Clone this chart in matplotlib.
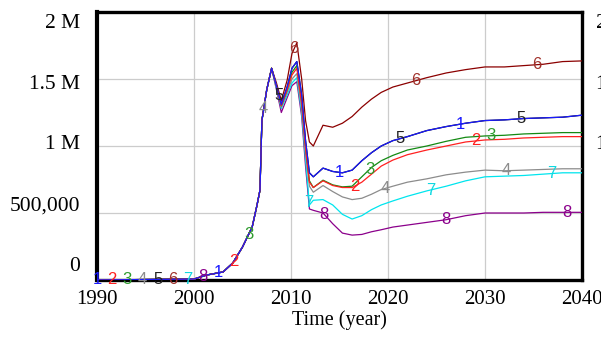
import numpy as np
import matplotlib
matplotlib.use("Agg")
import matplotlib.pyplot as plt

# ---------------- data ----------------
t_early = [1990, 2000, 2001.3, 2003, 2004, 2005, 2006, 2006.5, 2006.8, 2007.0, 2007.5, 2008]
v_early = [0, 7000, 37000, 60000, 127000, 246000, 396000, 560000, 670000, 1190000, 1420000, 1580000]

t_tail = [2008.5, 2009, 2009.6, 2010.1, 2010.6, 2011.1, 2011.5, 2011.9, 2012.3, 2013.3,
          2014.3, 2015.3, 2016.3, 2017.3, 2018.3, 2019.3, 2020.5, 2022, 2024, 2026,
          2028, 2030, 2032, 2034, 2036, 2038, 2040]

s1 = [1450000, 1310000, 1440000, 1580000, 1630000, 1380000, 1040000, 800000, 770000, 835000,
      810000, 800000, 820000, 890000, 950000, 1000000, 1040000, 1070000, 1115000, 1145000,
      1170000, 1190000, 1195000, 1205000, 1210000, 1215000, 1230000]
s2 = [1450000, 1300000, 1420000, 1530000, 1580000, 1320000, 980000, 730000, 690000, 740000,
      705000, 690000, 690000, 730000, 790000, 850000, 895000, 935000, 970000, 1000000,
      1030000, 1045000, 1050000, 1060000, 1065000, 1070000, 1070000]
s3 = [1450000, 1300000, 1420000, 1550000, 1600000, 1340000, 1000000, 740000, 690000, 745000,
      710000, 695000, 700000, 770000, 840000, 890000, 930000, 970000, 1000000, 1035000,
      1065000, 1075000, 1080000, 1090000, 1095000, 1100000, 1100000]
s4 = [1440000, 1290000, 1400000, 1500000, 1540000, 1280000, 950000, 700000, 655000, 705000,
      660000, 620000, 600000, 610000, 640000, 675000, 700000, 730000, 755000, 785000,
      805000, 820000, 815000, 820000, 825000, 830000, 830000]
s5 = list(s1)
s6 = [1470000, 1340000, 1490000, 1690000, 1770000, 1500000, 1190000, 1030000, 1000000, 1155000,
      1140000, 1170000, 1220000, 1290000, 1350000, 1400000, 1440000, 1470000, 1510000, 1545000,
      1570000, 1590000, 1590000, 1600000, 1610000, 1630000, 1635000]
s7 = [1430000, 1280000, 1380000, 1470000, 1510000, 1250000, 900000, 560000, 595000, 600000,
      560000, 490000, 455000, 480000, 525000, 560000, 590000, 625000, 665000, 700000,
      740000, 770000, 775000, 780000, 790000, 800000, 800000]
s8 = [1420000, 1250000, 1360000, 1450000, 1480000, 1220000, 850000, 530000, 520000, 500000,
      420000, 350000, 335000, 340000, 360000, 375000, 395000, 410000, 430000, 450000,
      480000, 500000, 500000, 500000, 505000, 505000, 505000]

series_names = ["1", "2", "3", "4", "5", "6", "7", "8"]
series_tails = [s1, s2, s3, s4, s5, s6, s7, s8]
line_colors = ["#1a1aff", "#ff2020", "#138a13", "#8c8c8c", "#000000", "#8b0000", "#00e5ee", "#8b008b"]
label_colors = ["#1a1aff", "#ff2020", "#2e9b2e", "#8c8c8c", "#222222", "#a0302a", "#10d8e0", "#8b008b"]

x_ticks = [1990, 2000, 2010, 2020, 2030, 2040]
y_ticks = [0, 500000, 1000000, 1500000, 2000000]
y_tick_labels = ["0", "500,000", "1 M", "1.5 M", "2 M"]
right_labels = ["1 M", "1.5 M", "2 M"]
right_vals = [1000000, 1500000, 2000000]
x_label = "Time (year)"

# ---------------- plot ----------------
serif = ["Liberation Serif", "DejaVu Serif"]
sans = ["Liberation Sans", "DejaVu Sans"]

fig = plt.figure(figsize=(6.01, 3.37), dpi=100)
ax = fig.add_axes([97 / 601, 1 - 280 / 337, 485 / 601, 268 / 337])

t_full = np.array(t_early + t_tail, dtype=float)
data = [np.array(v_early + list(s), dtype=float) for s in series_tails]

for k in reversed(range(8)):
    ax.plot(t_full, data[k], color=line_colors[k], lw=0.9, zorder=3 + (7 - k) * 0.01)

# numbered markers along lines
n_lab = 32
for i in range(n_lab):
    yr = 1990 + i * 50 / n_lab
    k = i % 8
    val = np.interp(yr, t_full, data[k])
    ax.text(yr, val, series_names[k], color=label_colors[k], fontsize=12,
            family=sans, ha="center", va="center", zorder=5, clip_on=False)

ax.set_xlim(1990, 2040)
ax.set_ylim(0, 2000000)
ax.set_xticks(x_ticks)
ax.set_xticklabels([str(x) for x in x_ticks], family=serif, fontsize=15)
ax.set_yticks(y_ticks)
ax.set_yticklabels([])
ax.tick_params(axis="both", length=0)
ax.tick_params(axis="x", pad=7)
ax.grid(True, color="#cccccc", lw=0.9)
ax.set_axisbelow(True)

for name, sp in ax.spines.items():
    sp.set_linewidth(2.4)
    sp.set_color("black")
ax.spines["left"].set_linewidth(3.0)

ax.set_xlabel(x_label, family=serif, fontsize=14.5, labelpad=1)

# y labels (Vensim style, compressed placement)
for v, lab in zip(y_ticks, y_tick_labels):
    frac = 0.0504 + v / 2000000 * 0.9067
    ax.text(-17 / 485, frac, lab, transform=ax.transAxes, ha="right", va="center",
            family=serif, fontsize=15.5, clip_on=False)

# right-hand axis labels, cut by the figure edge as in the original
for v, lab in zip(right_vals, right_labels):
    frac = 0.0504 + v / 2000000 * 0.9067
    ax.text(1 + 14 / 485, frac, lab, transform=ax.transAxes, ha="left", va="center",
            family=serif, fontsize=15.5, clip_on=False)

fig.savefig("out.png", dpi=100)
